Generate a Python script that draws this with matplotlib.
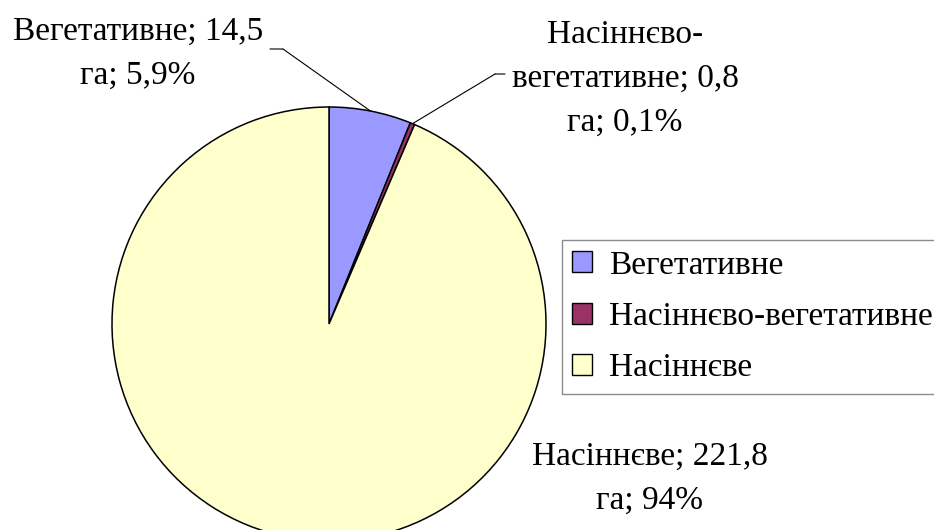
import numpy as np
import matplotlib
matplotlib.use("Agg")
import matplotlib.pyplot as plt
from matplotlib.patches import Patch

plt.rcParams['font.family'] = ['Liberation Serif', 'DejaVu Serif']

categories = ['Вегетативне', 'Насіннєво-вегетативне', 'Насіннєве']
areas = [14.5, 0.8, 221.8]
shares = ['5,9%', '0,1%', '94%']
label_texts = ['Вегетативне; 14,5\nга; 5,9%',
               'Насіннєво-\nвегетативне; 0,8\nга; 0,1%',
               'Насіннєве; 221,8\nга; 94%']
colors = ['#9999FF', '#993366', '#FFFFCC']

W, H, DPI = 934, 530, 100
FS = 24

fig = plt.figure(figsize=(W / DPI, H / DPI), dpi=DPI)

# pie: centre (329, 324) px from top-left, radius 217 px
cx, cy, r = 329, 324, 217
ax = fig.add_axes([(cx - r) / W, (H - cy - r) / H, 2 * r / W, 2 * r / H])
wedges, _ = ax.pie(areas, colors=colors, startangle=90, counterclock=False,
                   wedgeprops=dict(edgecolor='black', linewidth=1.1))
ax.set_xlim(-1, 1)
ax.set_ylim(-1, 1)
ax.set_aspect('auto')
ax.axis('off')

# data labels: centre x and first baseline y (pixels from top-left), line step
label_pos = [(138, 40), (625, 43), (650, 465)]
line_step = 44
for txt, (px, py) in zip(label_texts, label_pos):
    for i, line in enumerate(txt.split('\n')):
        fig.text(px / W, 1 - (py + i * line_step) / H, line,
                 ha='center', va='baseline', fontsize=FS)

# leader lines: from wedge mid-arc to an elbow next to the label
elbows = [((283, 49), (270, 49)), ((495, 74), (505, 74))]
for w, (e1, e2) in zip(wedges[:2], elbows):
    mid = np.deg2rad((w.theta1 + w.theta2) / 2)
    xa, ya = w.r * np.cos(mid), w.r * np.sin(mid)
    ax.annotate('', xy=(xa, ya), xycoords='data',
                xytext=(e1[0], H - e1[1]), textcoords='figure pixels',
                arrowprops=dict(arrowstyle='-', lw=0.8, color='black',
                                shrinkA=0, shrinkB=0))
    ax.annotate('', xy=(e1[0], H - e1[1]), xycoords='figure pixels',
                xytext=(e2[0], H - e2[1]), textcoords='figure pixels',
                arrowprops=dict(arrowstyle='-', lw=0.8, color='black',
                                shrinkA=0, shrinkB=0))

handles = [Patch(facecolor=c, edgecolor='black', linewidth=1.0) for c in colors]
leg = fig.legend(handles, categories, loc='upper left',
                 bbox_to_anchor=(562 / W, 1 - 240 / H), fontsize=FS,
                 frameon=True, fancybox=False, shadow=False,
                 handlelength=0.6, handleheight=0.6, handletextpad=0.5,
                 labelspacing=0.63, borderpad=0.3, borderaxespad=0)
leg.get_frame().set_edgecolor('#707070')
leg.get_frame().set_linewidth(1.0)

fig.savefig('out.png', dpi=DPI)
